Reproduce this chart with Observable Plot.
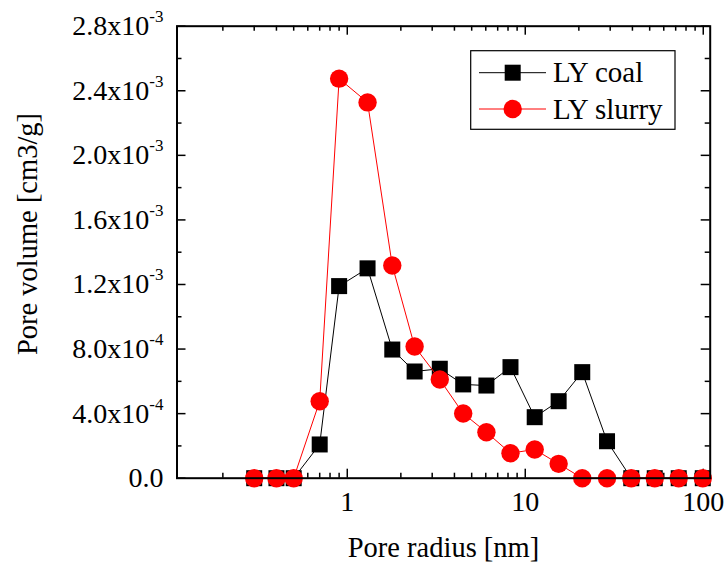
<!DOCTYPE html>
<html>
<head>
<meta charset="utf-8">
<script src="https://cdn.jsdelivr.net/npm/d3@7"></script>
<script src="https://cdn.jsdelivr.net/npm/@observablehq/plot@0.6"></script>
<style>
  html, body { margin: 0; padding: 0; background: #fff; }
  #chart { width: 728px; height: 570px; }
</style>
</head>
<body>
<div id="chart"></div>
<script>
// ---- data ----
const radius = [0.30, 0.40, 0.50, 0.70, 0.90, 1.30, 1.79, 2.39, 3.31, 4.48, 6.05, 8.26, 11.3, 15.4, 20.9, 28.8, 39.4, 53.4, 72.8, 99.4];
const coal   = [0, 0, 0, 0.209e-3, 1.19e-3, 1.30e-3, 0.797e-3, 0.661e-3, 0.678e-3, 0.581e-3, 0.574e-3, 0.688e-3, 0.378e-3, 0.477e-3, 0.657e-3, 0.229e-3, 0, 0, 0, 0];
const slurry = [0, 0, 0, 0.477e-3, 2.475e-3, 2.328e-3, 1.318e-3, 0.816e-3, 0.611e-3, 0.401e-3, 0.285e-3, 0.155e-3, 0.178e-3, 0.089e-3, 0, 0, 0, 0, 0, 0];
const seriesNames = ["LY coal", "LY slurry"];

const xMajor = [1, 10, 100];
const xMinor = [0.2,0.3,0.4,0.5,0.6,0.7,0.8,0.9, 2,3,4,5,6,7,8,9, 20,30,40,50,60,70,80,90];
const yMajor = [0, 0.4e-3, 0.8e-3, 1.2e-3, 1.6e-3, 2.0e-3, 2.4e-3, 2.8e-3];
const yMinor = [0.2e-3, 0.6e-3, 1.0e-3, 1.4e-3, 1.8e-3, 2.2e-3, 2.6e-3];
const yTickLabels = ["0.0", "4.0x10|-4", "8.0x10|-4", "1.2x10|-3", "1.6x10|-3", "2.0x10|-3", "2.4x10|-3", "2.8x10|-3"];

const coalData = radius.map((r, i) => ({r, v: coal[i]}));
const slurryData = radius.map((r, i) => ({r, v: slurry[i]}));

const W = 728, H = 570;
const mL = 176.5, mR = 18.3, mT = 25.7, mB = 92.3;
const plotH = H - mT - mB;
const plotW = W - mL - mR;
const FONT = "'Liberation Serif', 'Times New Roman', serif";
const majorLen = 9, minorLen = 5;

const chart = Plot.plot({
  width: W, height: H,
  marginLeft: mL, marginRight: mR, marginTop: mT, marginBottom: mB,
  style: {fontFamily: FONT, fontSize: "28px", background: "white", color: "black", overflow: "visible"},
  x: {type: "log", domain: [0.1105, 109.4]},
  y: {domain: [0, 2.8e-3]},
  marks: [
    // ticks (inward) on all four sides
    Plot.tickX(xMajor, {x: d => d, insetTop: plotH - majorLen, stroke: "black", strokeWidth: 1.5}),
    Plot.tickX(xMinor, {x: d => d, insetTop: plotH - minorLen, stroke: "black", strokeWidth: 1.5}),
    Plot.tickX(xMajor, {x: d => d, insetBottom: plotH - majorLen, stroke: "black", strokeWidth: 1.5}),
    Plot.tickX(xMinor, {x: d => d, insetBottom: plotH - minorLen, stroke: "black", strokeWidth: 1.5}),
    Plot.tickY(yMajor, {y: d => d, insetRight: plotW - majorLen, stroke: "black", strokeWidth: 1.5}),
    Plot.tickY(yMinor, {y: d => d, insetRight: plotW - minorLen, stroke: "black", strokeWidth: 1.5}),
    Plot.tickY(yMajor, {y: d => d, insetLeft: plotW - majorLen, stroke: "black", strokeWidth: 1.5}),
    Plot.tickY(yMinor, {y: d => d, insetLeft: plotW - minorLen, stroke: "black", strokeWidth: 1.5}),
    Plot.axisX({ticks: xMajor, tickSize: 0, tickPadding: 13, tickFormat: d => String(d), label: null, fontSize: 28}),
    Plot.axisY({ticks: yMajor, tickSize: 0, tickPadding: 13.5, tickFormat: d => yTickLabels[yMajor.indexOf(d)], label: null, fontSize: 28}),
    // series
    Plot.line(coalData, {x: "r", y: "v", stroke: "black", strokeWidth: 1}),
    Plot.dot(coalData, {x: "r", y: "v", symbol: "square", r: 9.03, fill: "black", stroke: "none"}),
    Plot.line(slurryData, {x: "r", y: "v", stroke: "#ff0000", strokeWidth: 1}),
    Plot.dot(slurryData, {x: "r", y: "v", symbol: "circle", r: 9.2, fill: "#ff0000", stroke: "none"}),
    Plot.frame({stroke: "black", strokeWidth: 2})
  ]
});

document.getElementById("chart").appendChild(chart);
const svg = d3.select(chart);

// superscript exponents on y tick labels
svg.selectAll('g[aria-label="y-axis tick label"] text').each(function() {
  const t = d3.select(this);
  const s = t.text();
  if (s.includes("|")) {
    const [base, exp] = s.split("|");
    t.text(base);
    t.append("tspan").attr("dy", -13).attr("font-size", 17).text(exp);
  }
});

// axis titles
svg.append("text")
  .attr("x", 443.5).attr("y", 557)
  .attr("text-anchor", "middle")
  .attr("font-family", FONT).attr("font-size", 28.5).attr("fill", "black")
  .text("Pore radius [nm]");
svg.append("text")
  .attr("transform", "translate(37,234) rotate(-90)")
  .attr("text-anchor", "middle")
  .attr("font-family", FONT).attr("font-size", 28.5).attr("fill", "black")
  .text("Pore volume [cm3/g]");

// legend
const lg = svg.append("g").attr("font-family", FONT).attr("font-size", 29).attr("text-anchor", "start");
lg.append("rect").attr("x", 470.7).attr("y", 50.7).attr("width", 204.3).attr("height", 78.6)
  .attr("fill", "white").attr("stroke", "black").attr("stroke-width", 1.2);
const rows = [
  {name: seriesNames[0], color: "black", shape: "square", cy: 72.7},
  {name: seriesNames[1], color: "#ff0000", shape: "circle", cy: 109}
];
rows.forEach(row => {
  lg.append("line").attr("x1", 479).attr("x2", 546).attr("y1", row.cy).attr("y2", row.cy)
    .attr("stroke", row.color).attr("stroke-width", 1);
  if (row.shape === "square") {
    lg.append("rect").attr("x", 512.7 - 8).attr("y", row.cy - 8).attr("width", 16).attr("height", 16).attr("fill", row.color);
  } else {
    lg.append("circle").attr("cx", 512.7).attr("cy", row.cy).attr("r", 9.2).attr("fill", row.color);
  }
  lg.append("text").attr("x", 553).attr("y", row.cy + 9.5).attr("text-anchor", "start").attr("fill", "black").text(row.name);
});
</script>
</body>
</html>
